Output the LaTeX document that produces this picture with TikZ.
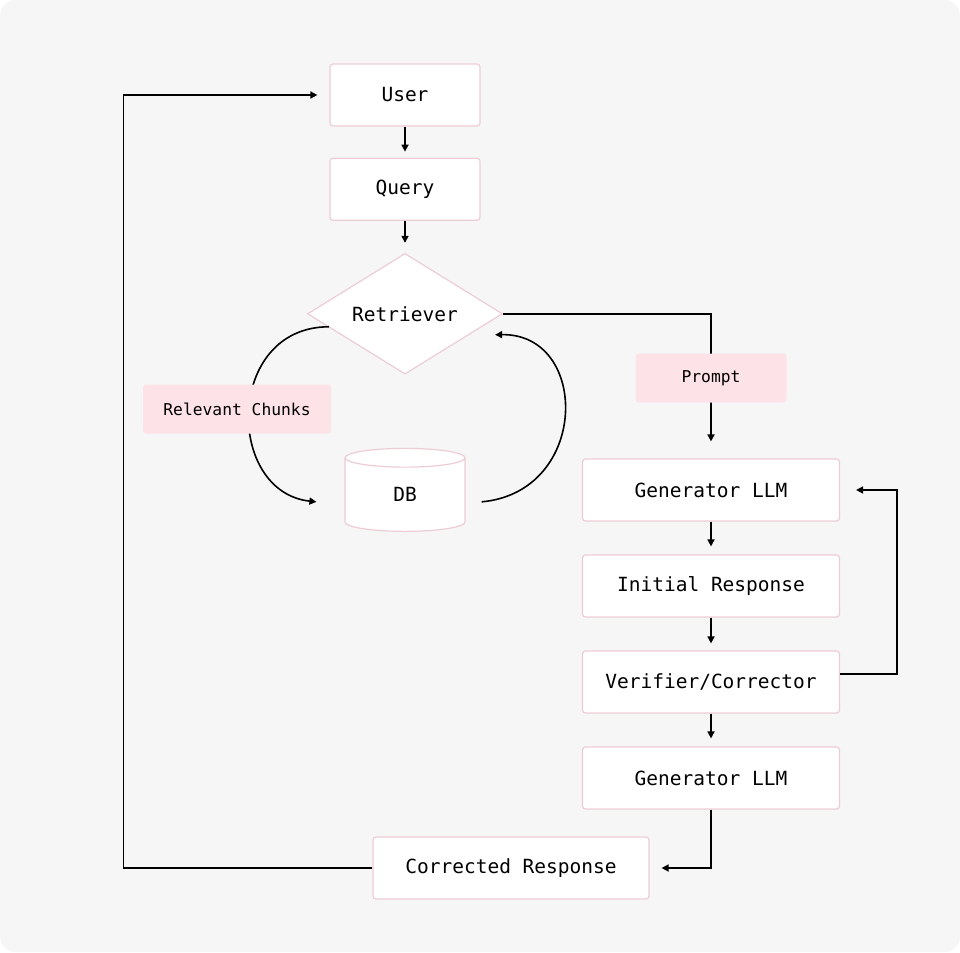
\documentclass[tikz,border=0pt]{standalone}
\usepackage{fontspec}
\setmonofont{DejaVu Sans Mono}
\usetikzlibrary{arrows.meta, positioning, shapes.geometric, calc}

\definecolor{pagebg}{HTML}{F6F6F6}
\definecolor{boxline}{HTML}{EDCDD4}
\definecolor{tagfill}{HTML}{FDE2E7}

\begin{document}
\begin{tikzpicture}[
  x=1pt, y=-1pt,
  >={Triangle[length=7pt, width=7pt]},
  stepbox/.style = {draw=boxline, line width=1.2pt, fill=white,
                    rounded corners=3pt, minimum width=150pt,
                    minimum height=62pt, inner sep=0pt,
                    font=\ttfamily\fontsize{19.5}{23}\selectfont},
  widebox/.style = {stepbox, minimum width=257pt},
  decbox/.style  = {draw=boxline, line width=1.2pt, fill=white,
                    diamond, minimum width=195pt, minimum height=112pt,
                    inner sep=0pt,
                    font=\ttfamily\fontsize{19.5}{23}\selectfont},
  dbnode/.style  = {draw=boxline, line width=1.2pt, fill=white,
                    cylinder, shape border rotate=90, aspect=0.8,
                    minimum width=120pt, minimum height=83pt,
                    inner sep=0pt,
                    font=\ttfamily\fontsize{19.5}{23}\selectfont},
  tagnode/.style = {fill=tagfill, rounded corners=3pt, inner sep=0pt,
                    minimum height=49pt,
                    font=\ttfamily\fontsize{16.3}{20}\selectfont},
  arr/.style     = {->, line width=1.6pt},
]

% =============================================
% BACKGROUND
% =============================================
\useasboundingbox (0,0) rectangle (960,952);
\fill[white] (0,0) rectangle (960,952);
\fill[pagebg, rounded corners=16pt] (0,0) rectangle (960,952);

% =============================================
% RETRIEVAL COLUMN (left)
% =============================================
\node[stepbox]                 (user)  at (405,95) {User};
\node[stepbox, below=31pt of user]  (query) {Query};
\node[decbox,  below=32pt of query] (ret)   {Retriever};
\node[dbnode,  below=73pt of ret]   (db)    {DB};

% =============================================
% GENERATION COLUMN (right)
% =============================================
\node[widebox]                   (gen1)  at (711,490) {Generator LLM};
\node[widebox, below=32.8pt of gen1]  (init)  {Initial Response};
\node[widebox, below=32.8pt of init]  (verif) {Verifier/Corrector};
\node[widebox, below=32.8pt of verif] (gen2)  {Generator LLM};
\node[stepbox, minimum width=276pt] (corr)  at (511,868) {Corrected Response};

% =============================================
% ARROWS
% =============================================
\draw[arr, shorten >=6pt] (user)  -- (query);
\draw[arr, shorten >=10pt] (query) -- (ret);
% retriever <-> DB loop
\draw[arr] ($(ret.west)+(22,13)$)
    .. controls (225,327) and (225,492) .. ($(db.west)+(-28,7)$);
\draw[arr] ($(db.east)+(16,7)$)
    .. controls (590,492) and (590,333) .. ($(ret.east)+(-8,21)$);
% retriever to generator, through the prompt
\draw[arr, shorten >=17pt] (ret.east) -| (gen1.north);
\draw[arr, shorten >=8pt] (gen1)  -- (init);
\draw[arr, shorten >=7pt] (init)  -- (verif);
\draw[arr, shorten >=8pt] (verif) -- (gen2);
% correction loop
\draw[arr] ($(verif.east)+(0,-8)$) -- ++(57,0) |- ($(gen1.east)+(16,0)$);
\draw[arr] (gen2.south) |- ($(corr.east)+(12,0)$);
% back to the user
\draw[arr] (corr.west) -- ++(-249,0) |- ($(user.west)+(-12,0)$);

% =============================================
% CONNECTOR TAGS
% =============================================
\node[tagnode, minimum width=188pt] (chunks) at (237,409) {Relevant Chunks};
\node[tagnode, minimum width=151pt] (prompt) at (711,378) {Prompt};

\end{tikzpicture}
\end{document}
